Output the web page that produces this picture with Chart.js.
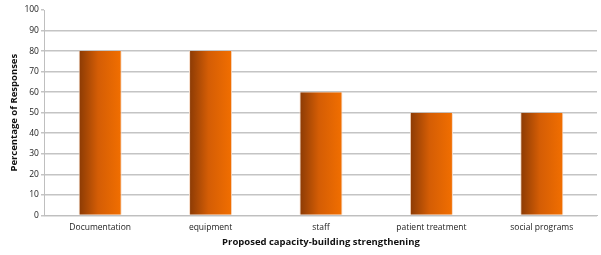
<!DOCTYPE html>
<html><head><meta charset="utf-8">
<script src="https://cdn.jsdelivr.net/npm/chart.js@4"></script>
<style>html,body{margin:0;padding:0;background:#fff;}#wrap{width:601px;height:255px;}</style>
</head><body><div id="wrap"><canvas id="c" width="601" height="255"></canvas></div>
<script>
const categories = ["Documentation", "equipment", "staff", "patient treatment", "social programs"];
const percentages = [80, 80, 60, 50, 50];
const yTicks = [0, 10, 20, 30, 40, 50, 60, 70, 80, 90, 100];
const BAR_PCT = 0.39;
const FONT = "'Open Sans', 'Liberation Sans', sans-serif";

function barFill(c) {
  const chart = c.chart;
  const xs = chart.scales && chart.scales.x;
  if (!xs || c.type !== 'data' || !isFinite(xs.width)) return '#d9620a';
  const cx = xs.getPixelForValue(c.dataIndex);
  const w = xs.width / categories.length * BAR_PCT;
  const g = chart.ctx.createLinearGradient(cx - w / 2, 0, cx + w / 2, 0);
  g.addColorStop(0, '#8a3a05');
  g.addColorStop(0.45, '#d45d05');
  g.addColorStop(1, '#f26f00');
  return g;
}

new Chart(document.getElementById('c'), {
  type: 'bar',
  data: {
    labels: categories,
    datasets: [{
      data: percentages,
      backgroundColor: barFill,
      borderColor: '#f6d9c4',
      borderWidth: {left: 1, right: 1, top: 0, bottom: 0},
      borderSkipped: false,
      categoryPercentage: 1,
      barPercentage: BAR_PCT
    }]
  },
  options: {
    responsive: false,
    animation: false,
    devicePixelRatio: 1,
    layout: {padding: {top: 10, right: 4, left: 9, bottom: 7}},
    plugins: {legend: {display: false}, tooltip: {enabled: false}},
    scales: {
      x: {
        grid: {display: false, drawTicks: false},
        border: {display: true, color: '#bfbfbf', width: 1},
        ticks: {color: '#222', font: {family: FONT, size: 8.5}, padding: 7, maxRotation: 0, autoSkip: false},
        title: {display: true, text: 'Proposed capacity-building strengthening', color: '#111',
                font: {family: FONT, size: 9.5, weight: 'bold'}, padding: {top: -3, bottom: 0}}
      },
      y: {
        min: 0, max: 100,
        afterBuildTicks: (s) => { s.ticks = yTicks.map(v => ({value: v})); },
        grid: {
          color: (c) => (c.tick && c.tick.value === 100) ? 'rgba(0,0,0,0)' : '#c4c4c4',
          tickColor: '#c4c4c4',
          lineWidth: 1.5, tickLength: 4, drawTicks: true
        },
        border: {display: true, color: '#bfbfbf', width: 1},
        ticks: {color: '#222', font: {family: FONT, size: 8.5}, padding: 2},
        title: {display: true, text: 'Percentage of Responses', color: '#111',
                font: {family: FONT, size: 9.5, weight: 'bold'}, padding: {top: 0, bottom: 2}}
      }
    }
  }
});
</script></body></html>
